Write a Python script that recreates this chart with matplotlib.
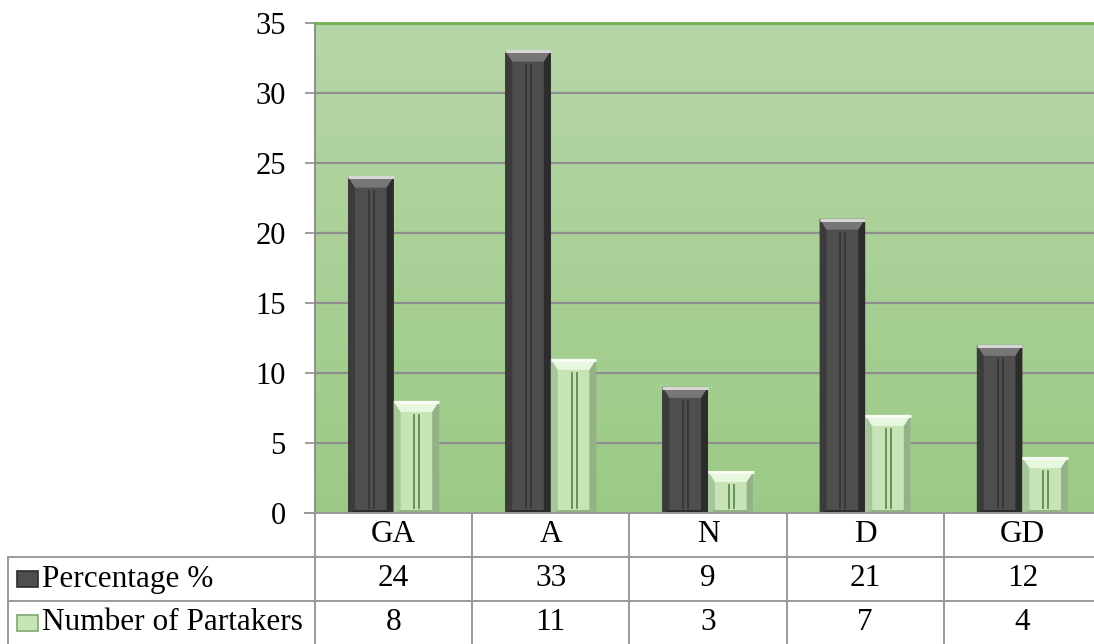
import numpy as np
import matplotlib.pyplot as plt
from matplotlib.patches import Polygon

plt.rcParams['font.family'] = ['Liberation Serif', 'DejaVu Serif']

# Data
categories = ['GA', 'A', 'N', 'D', 'GD']
percentage = [24, 33, 9, 21, 12]
partakers = [8, 11, 3, 7, 4]
series_names = ['Percentage %', 'Number of Partakers']

W, H = 1094, 644
fig = plt.figure(figsize=(W / 100, H / 100), dpi=100)

# axes box in pixels (right edge runs slightly past the figure)
x0, x1, y_top, y_bot = 315, 1101, 22.5, 513
ax = fig.add_axes([x0 / W, 1 - y_bot / H, (x1 - x0) / W, (y_bot - y_top) / H])

xpos = np.arange(len(categories))
ax.set_xlim(-0.5, len(categories) - 0.5)
ax.set_ylim(0, 35)

# green gradient background
grad = np.linspace(0, 1, 256).reshape(-1, 1)
top_c = np.array([0xb6, 0xd6, 0xa7]) / 255
bot_c = np.array([0x9c, 0xca, 0x86]) / 255
img = bot_c + (top_c - bot_c) * grad
ax.imshow(img[:, None, :].repeat(2, axis=1), extent=(-0.5, len(categories) - 0.5, 0, 35),
          origin='lower', aspect='auto', zorder=0)

ax.set_yticks(range(0, 36, 5))
ax.yaxis.grid(True, color='#8e8e8e', lw=1.6, zorder=1)
ax.set_axisbelow(True)
ax.set_xticks([])
ax.tick_params(axis='y', length=7, width=1.2, color='#8e8e8e', pad=14, labelsize=22)
for s in ['right', 'bottom']:
    ax.spines[s].set_visible(False)
ax.spines['left'].set_color('#8e8e8e')
ax.spines['left'].set_linewidth(1.4)
ax.spines['top'].set_color('#6fae4f')
ax.spines['top'].set_linewidth(2)

bw = 0.29
px = (x1 - x0) / len(categories)  # pixels per category
ux = 1 / px                        # one pixel in x data units
uy = 35 / (y_bot - y_top)          # one pixel in y data units


def bevel_bars(xs, vals, body, left, right, cap, hi, line):
    ax.bar(xs, vals, width=bw, color=body, zorder=2, linewidth=0)
    for x, v in zip(xs, vals):
        l, r = x - bw / 2, x + bw / 2
        e = 7 * ux
        c = 11 * uy
        ax.fill([l, l + e, l + e, l], [0, 3 * uy, v - c, v], color=left, zorder=3, lw=0)
        ax.fill([r, r - e, r - e, r], [0, 3 * uy, v - c, v], color=right, zorder=3, lw=0)
        ax.fill([l, r, r - e, l + e], [0, 0, 3 * uy, 3 * uy], color=right, zorder=3, lw=0)
        ax.add_patch(Polygon([[l, v], [r, v], [r - e, v - c], [l + e, v - c]],
                             closed=True, color=cap, zorder=4, lw=0))
        ax.plot([l, r], [v - 0.8 * uy, v - 0.8 * uy], color=hi, lw=2.2, zorder=5,
                solid_capstyle='butt')
        h = max(v - 14 * uy, 4 * uy)
        ax.plot([x - 2 * ux, x - 2 * ux], [5 * uy, h], color=line, lw=1.3, zorder=5)
        ax.plot([x + 3 * ux, x + 3 * ux], [5 * uy, h], color=line, lw=1.3, zorder=5)


bevel_bars(xpos - bw / 2, percentage, '#4e4e4e', '#3b3b3b', '#2c2c2c',
           '#767676', '#d6d6d6', '#363636')
bevel_bars(xpos + bw / 2, partakers, '#c6e4b6', '#a7c79a', '#93b386',
           '#e8f7df', '#f6fcf2', '#5d8a4f')

# data table under the axes
rows = [513, 557, 601, 645]
gray = '#9a9a9a'


def fx(p):
    return p / W


def fy(p):
    return 1 - p / H


bounds = [x0 + i * px for i in range(len(categories) + 1)]
for b in bounds:
    fig.add_artist(plt.Line2D([fx(b), fx(b)], [fy(rows[0]), fy(rows[3])], color=gray, lw=1.4))
fig.add_artist(plt.Line2D([fx(8), fx(8)], [fy(rows[1]), fy(rows[3])], color=gray, lw=1.4))
for r in rows[1:]:
    fig.add_artist(plt.Line2D([fx(8), fx(x1)], [fy(r), fy(r)], color=gray, lw=1.4))
fig.add_artist(plt.Line2D([fx(305), fx(x1)], [fy(rows[0]), fy(rows[0])], color=gray, lw=1.4))

fs = 22.5
for i, c in enumerate(categories):
    cx = x0 + (i + 0.5) * px
    fig.text(fx(cx), fy((rows[0] + rows[1]) / 2), c, ha='center', va='center', fontsize=fs)
    fig.text(fx(cx), fy((rows[1] + rows[2]) / 2), str(percentage[i]), ha='center', va='center', fontsize=fs)
    fig.text(fx(cx), fy((rows[2] + rows[3]) / 2), str(partakers[i]), ha='center', va='center', fontsize=fs)

# legend keys inside the row headers
keys = [('#4e4e4e', '#2c2c2c'), ('#c6e4b6', '#7fa872')]
for k, name in enumerate(series_names):
    cy = (rows[k + 1] + rows[k + 2]) / 2
    fc, ec = keys[k]
    fig.add_artist(plt.Rectangle((fx(17), fy(cy + 8)), 21 / W, 16 / H, facecolor=fc,
                                 edgecolor=ec, lw=1.2))
    fig.text(fx(42), fy(cy), name, ha='left', va='center', fontsize=fs)

fig.savefig('out.png', dpi=100)
